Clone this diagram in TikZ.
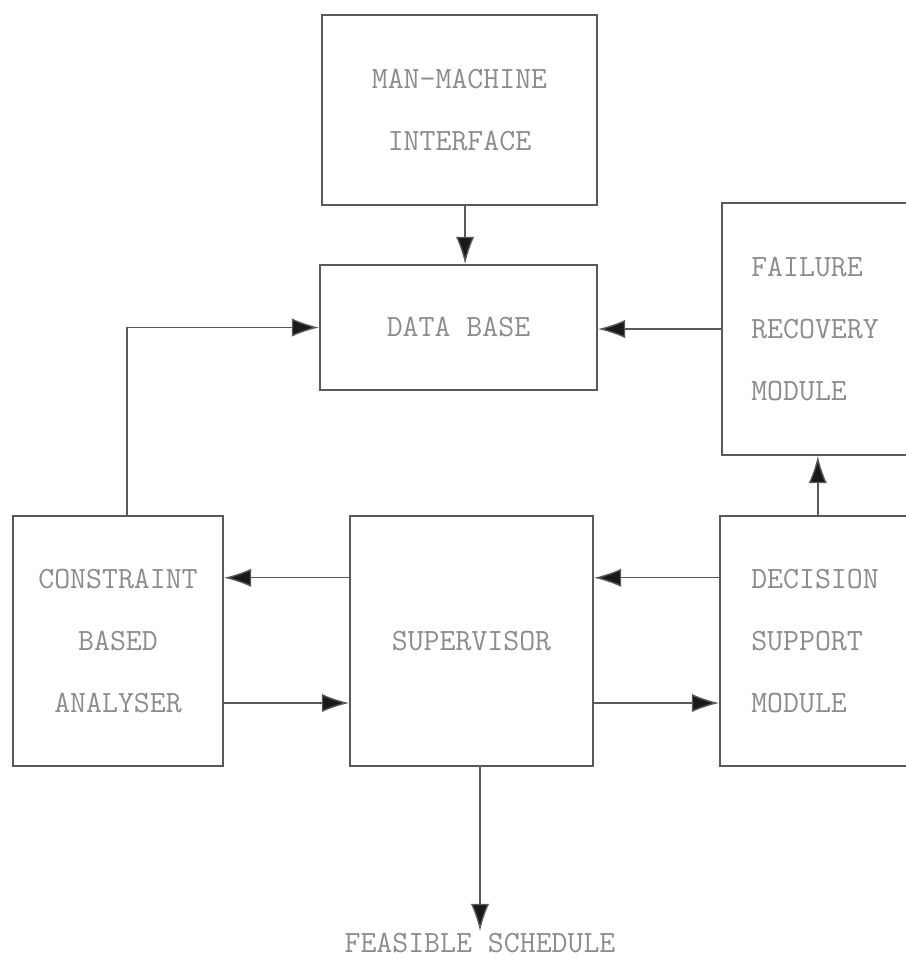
\documentclass[tikz,border=0pt]{standalone}
\usepackage{fontspec}
\usetikzlibrary{arrows.meta}
\begin{document}
\begin{tikzpicture}[x=0.025cm, y=-0.025cm,
  block/.style = {draw = black!65, line width = 1.4pt, text = black!45, font = \ttfamily\fontsize{22}{44}\selectfont, inner sep = 0pt},
  flow/.style = {draw = black!65, line width = 1pt, -{Latex[length = 0.68cm, width = 0.46cm, fill = black!90]}}]
\clip (0,0) rectangle (906,968);
\node[block, minimum width = 6.875cm, minimum height = 4.75cm, align = center] (mmi) at (459.5,110) {MAN-MACHINE\\INTERFACE};
\node[block, minimum width = 6.925cm, minimum height = 3.125cm] (db) at (458.5,327.5) {DATA BASE};
\node[block, minimum width = 4.65cm, minimum height = 6.3cm, align = left] (frm) at (815,329) {FAILURE\\RECOVERY\\MODULE};
\node[block, minimum width = 5.25cm, minimum height = 6.25cm, align = center] (cba) at (118,641) {CONSTRAINT\\BASED\\ANALYSER};
\node[block, minimum width = 6.075cm, minimum height = 6.25cm] (sup) at (471.5,641) {SUPERVISOR};
\node[block, minimum width = 4.75cm, minimum height = 6.25cm, align = left] (dsm) at (815,641) {DECISION\\SUPPORT\\MODULE};
\node[block, draw = none, inner sep = 1pt, anchor = north] (out) at (480,931) {FEASIBLE SCHEDULE};
\draw[flow] ([xshift = 0.14cm]mmi.south) -- ([xshift = 0.14cm]mmi.south |- db.north);
\draw[flow] ([xshift = 0.22cm]cba.north) |- (db.west);
\draw[flow] (frm.west) -- (frm.west -| db.east);
\draw[flow] ([xshift = 0.07cm]dsm.north) -- ([xshift = 0.07cm]dsm.north |- frm.south);
\foreach \s/\a/\b in {1.58/sup.west/cba.east, -1.55/cba.east/sup.west, 1.58/dsm.west/sup.east, -1.55/sup.east/dsm.west}
  \draw[flow] ([yshift = \s cm]\a) -- ([yshift = \s cm]\a -| \b);
\draw[flow] (out.north |- sup.south) -- (out.north);
\end{tikzpicture}
\end{document}
